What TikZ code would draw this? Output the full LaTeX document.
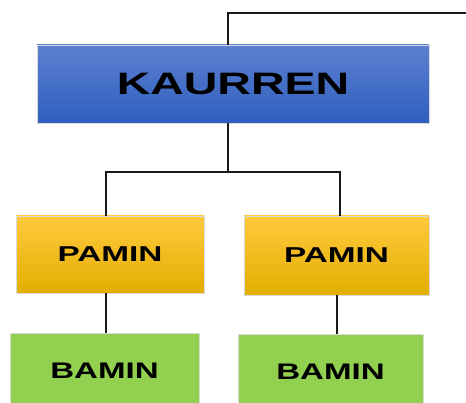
\documentclass[tikz,border=0pt]{standalone}
\usepackage{fontspec}
\setmainfont{Liberation Sans}
\begin{document}
\begin{tikzpicture}[x=1pt,y=-1pt,
  box/.style={rectangle, draw=white!85!black, line width=0.4pt, inner sep=0pt, anchor=center},
  bluebox/.style={box, top color=blue1, bottom color=blue2},
  goldbox/.style={box, top color=gold1, middle color=gold2, bottom color=gold3},
  greenbox/.style={box, fill=leaf},
  link/.style={line width=2.6pt, black!90}]
\definecolor{blue1}{HTML}{5B80D0}
\definecolor{blue2}{HTML}{2F5FBF}
\definecolor{gold1}{HTML}{FFC93E}
\definecolor{gold2}{HTML}{FFC000}
\definecolor{gold3}{HTML}{E3AE00}
\definecolor{leaf}{HTML}{92D050}
\useasboundingbox (0,0) rectangle (466,403);
\begin{scope}
\clip (0,0) rectangle (466,403);
% boxes
\node[bluebox, minimum width=392pt, minimum height=78pt] (k) at (233,84)
  {\fontsize{31}{32}\selectfont\bfseries\scalebox{1.5}[1]{KAURREN}};
\node[goldbox, minimum width=188pt, minimum height=77pt] (p1) at (110,254.5)
  {\fontsize{21.5}{24}\selectfont\bfseries\scalebox{1.55}[1]{PAMIN}};
\node[goldbox, minimum width=185pt, minimum height=79pt] (p2) at (336.5,255.5)
  {\fontsize{21.5}{24}\selectfont\bfseries\scalebox{1.55}[1]{PAMIN}};
\node[greenbox, minimum width=189pt, minimum height=76pt] (b1) at (104.5,371)
  {\fontsize{22.5}{24}\selectfont\bfseries\scalebox{1.47}[1]{BAMIN}};
\node[greenbox, minimum width=185pt, minimum height=76pt] (b2) at (330.5,372)
  {\fontsize{22.5}{24}\selectfont\bfseries\scalebox{1.47}[1]{BAMIN}};
% connectors
\coordinate (topend) at (466,13);
\coordinate (busL) at (106,172);
\coordinate (busR) at (340,172);
\coordinate (kx) at (228,0);
\coordinate (lx) at (337,0);
\draw[link] (k.north -| kx) |- (topend);
\draw[link] (k.south -| kx) -- (kx |- busL);
\draw[link] (p1.north -| busL) |- (busR) -- (p2.north -| busR);
\draw[link] (p1.south -| busL) -- (b1.north -| busL);
\draw[link] (p2.south -| lx) -- (b2.north -| lx);
\end{scope}
\end{tikzpicture}
\end{document}
